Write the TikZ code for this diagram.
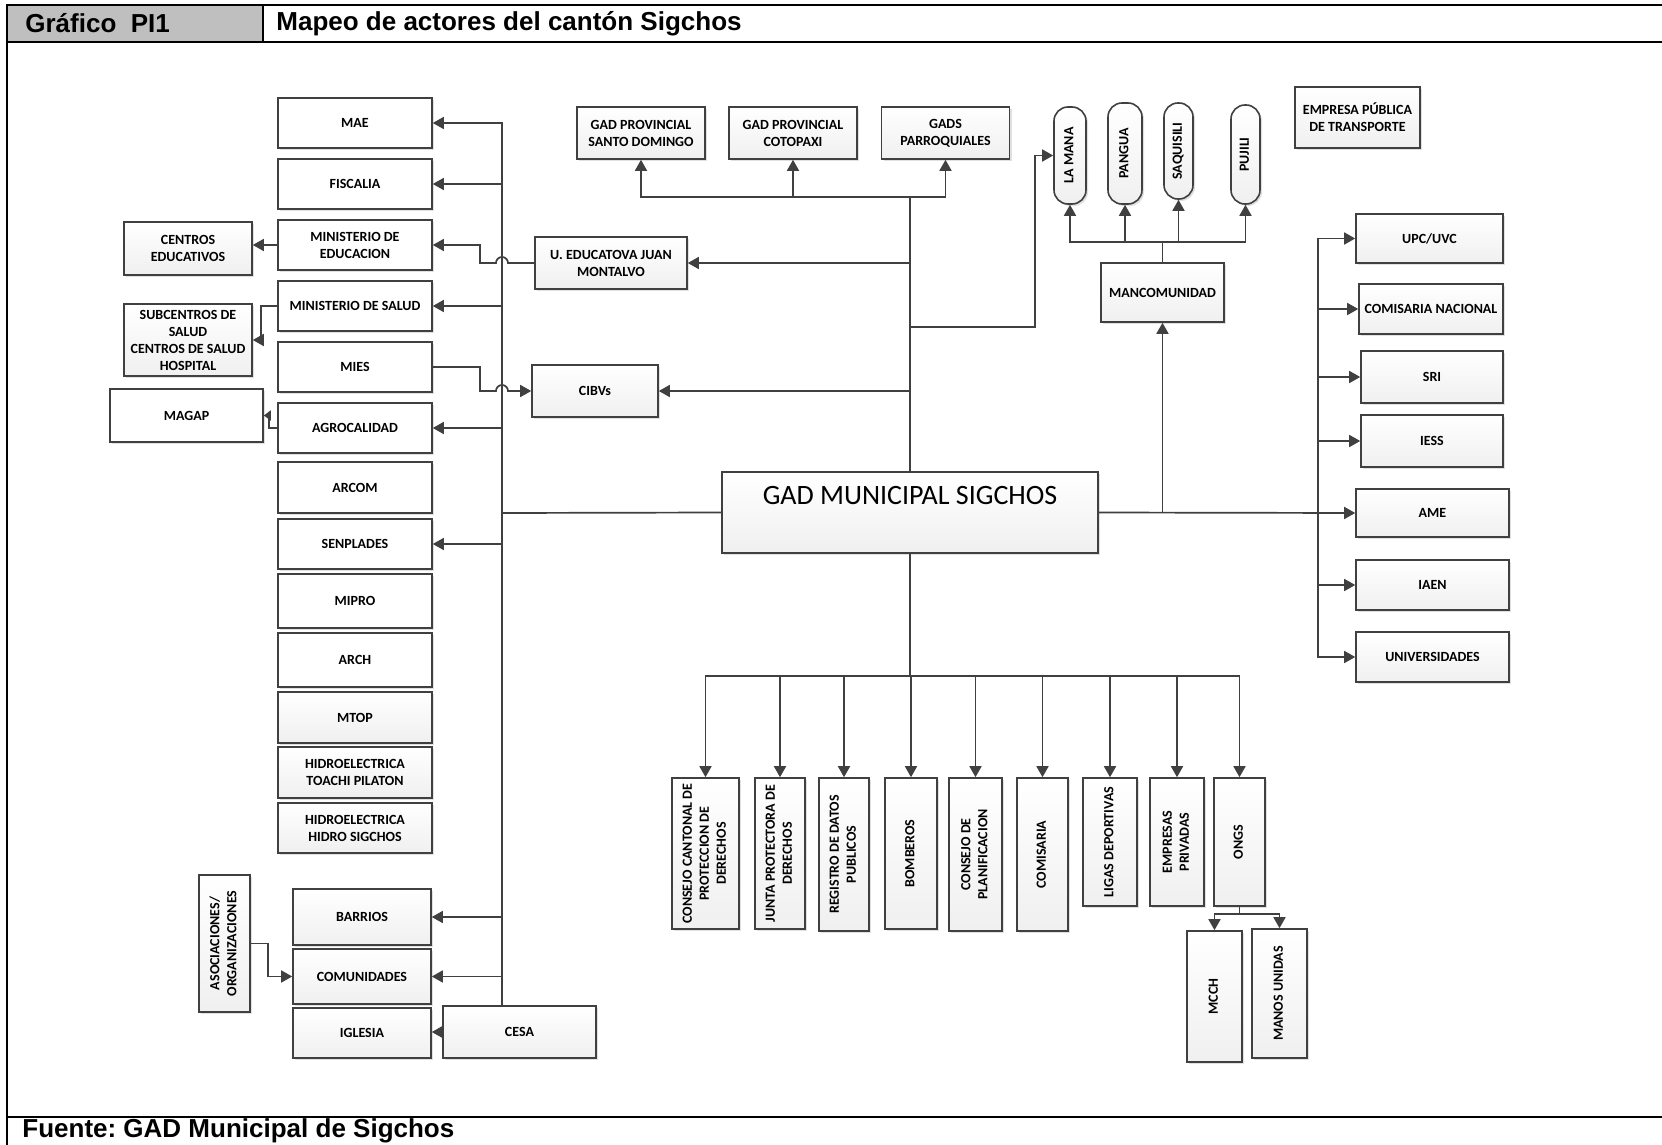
\documentclass[tikz,border=0pt]{standalone}
\usepackage{fontspec}
\usepackage{graphicx}
\setmainfont{Carlito}
\newfontfamily\hdrfont{Liberation Sans}
\usetikzlibrary{arrows.meta,shadows}
\definecolor{lnc}{HTML}{404040}
\definecolor{hdrgray}{HTML}{BFBFBF}
\newcommand{\vlabel}[1]{\rotatebox{90}{\begin{tabular}{@{}c@{}}#1\end{tabular}}}
\begin{document}
\begin{tikzpicture}[x=0.5pt,y=-0.5pt,every node/.style={font=\fontsize{7}{8.5}\selectfont\bfseries,align=center,inner sep=1pt},
  box/.style={draw=lnc,line width=0.8pt,top color=white,bottom color=gray!12,drop shadow={shadow xshift=1pt,shadow yshift=-1pt,opacity=.3,fill=black!40}},
  wbox/.style={box,top color=white,bottom color=white},
  lcol/.style={minimum width=77pt,minimum height=25pt},
  rcol/.style={minimum width=76.5pt,minimum height=25pt},
  vcol/.style={box,minimum height=75.5pt},
  town/.style={box,rounded corners=7pt},
  hdr/.style={font=\hdrfont\bfseries\fontsize{13}{15}\selectfont,anchor=west,inner sep=0pt},
  conn/.style={draw=lnc,line width=0.85pt},
  arr/.style={conn,-{Triangle[length=5.5pt,width=6pt]}}]
\useasboundingbox (0,0) rectangle (1662,1145);
% frame and headings
\fill[hdrgray] (7,5) rectangle (263,42);
\draw[line width=1.3pt] (7,1145) -- (7,5) -- (1662,5); \draw[line width=1.3pt] (7,42) -- (1662,42);
\draw[line width=1.3pt] (263,5) -- (263,42); \draw[line width=1.3pt] (7,1117) -- (1662,1117);
\node[hdr] (grafico) at (25,23.5) {Gráfico\ \ PI1}; \node[hdr] (titulo) at (276,23.5) {Mapeo de actores del cantón Sigchos};
\node[hdr] (fuente) at (22,1131) {Fuente:\ GAD Municipal de Sigchos};
% left column
\node[wbox,lcol] (mae) at (355,123) {MAE}; \node[wbox,lcol] (fisc) at (355,184) {FISCALIA};
\node[wbox,lcol] (minedu) at (355,245) {MINISTERIO DE\\EDUCACION}; \node[wbox,lcol] (minsal) at (355,306) {MINISTERIO DE SALUD};
\node[wbox,lcol] (mies) at (355,367) {MIES}; \node[wbox,lcol] (agro) at (355,428) {AGROCALIDAD};
\node[wbox,lcol,minimum height=25.5pt] (arcom) at (355,487.5) {ARCOM}; \node[wbox,lcol] (senpl) at (355,544) {SENPLADES};
\node[wbox,lcol,minimum height=27pt] (mipro) at (355,601) {MIPRO}; \node[wbox,lcol,minimum height=27pt] (arch) at (355,660) {ARCH};
\node[box,lcol,minimum height=25.5pt] (mtop) at (355,717.5) {MTOP};
\node[box,lcol,minimum height=25.5pt] (toachi) at (355,772.5) {HIDROELECTRICA\\TOACHI PILATON};
\node[box,lcol] (hsig) at (355,828) {HIDROELECTRICA\\HIDRO SIGCHOS};
\node[box,minimum width=64pt,minimum height=26.5pt] (centros) at (188,248.5) {CENTROS\\EDUCATIVOS};
\node[box,minimum width=64pt,minimum height=36pt] (subc) at (188,340) {SUBCENTROS DE\\SALUD\\CENTROS DE SALUD\\HOSPITAL};
\node[wbox,minimum width=76.5pt,minimum height=26.5pt] (magap) at (186.5,415.5) {MAGAP};
% bottom left
\node[box,minimum width=25.5pt,minimum height=68.5pt] (asoc) at (224.5,943.5) {\vlabel{ASOCIACIONES/\\ORGANIZACIONES}};
\node[box,minimum width=69pt,minimum height=28pt] (barrios) at (362,917) {BARRIOS};
\node[box,minimum width=69pt,minimum height=27.5pt] (comun) at (362,976.5) {COMUNIDADES};
\node[box,minimum width=69pt,minimum height=25pt] (igl) at (362,1033) {IGLESIA};
\node[box,minimum width=76.5pt,minimum height=26pt] (cesa) at (519.5,1032) {CESA};
% top and centre
\node[box,minimum width=64pt,minimum height=26pt] (santo) at (641,133) {GAD PROVINCIAL\\SANTO DOMINGO};
\node[box,minimum width=64pt,minimum height=26pt] (coto) at (793,133) {GAD PROVINCIAL\\COTOPAXI};
\node[box,minimum width=64pt,minimum height=26pt] (gadsp) at (945.5,133) {GADS\\PARROQUIALES};
\node[box,minimum width=76pt,minimum height=26pt] (ueduc) at (611,263) {U. EDUCATOVA JUAN\\MONTALVO};
\node[box,minimum width=63pt,minimum height=26pt] (cibv) at (595,391) {CIBVs};
\node[box,minimum width=188pt,minimum height=40.5pt,font=\fontsize{14}{16}\selectfont,text height=9.5pt,text depth=18pt] (gad) at (910,512.5) {GAD MUNICIPAL SIGCHOS};
\node[box,minimum width=62.5pt,minimum height=30.5pt] (empresa) at (1357.5,117.5) {EMPRESA PÚBLICA\\DE TRANSPORTE};
\node[town,minimum width=16pt,minimum height=48.5pt] (lamana) at (1070,155.5) {\vlabel{LA MANA}};
\node[town,minimum width=17pt,minimum height=50.5pt] (pangua) at (1125,153.5) {\vlabel{PANGUA}};
\node[town,minimum width=14.5pt,minimum height=48pt] (saq) at (1178.5,151) {\vlabel{SAQUISILI}};
\node[town,minimum width=14.5pt,minimum height=49.5pt] (pujili) at (1245.5,154.5) {\vlabel{PUJILI}};
\node[box,minimum width=61.5pt,minimum height=29.5pt] (mancom) at (1162.5,292.5) {MANCOMUNIDAD};
% right column
\node[box,minimum width=73.5pt,minimum height=24.5pt] (upc) at (1429.5,238.5) {UPC/UVC};
\node[box,minimum width=72pt,minimum height=25pt] (cnac) at (1431,309) {COMISARIA NACIONAL};
\node[box,minimum width=71pt,minimum height=26pt] (sri) at (1432,377) {SRI};
\node[box,minimum width=71pt,minimum height=26pt] (iess) at (1432,441) {IESS};
\node[box,rcol,minimum height=24pt] (ame) at (1432.5,513) {AME};
\node[box,rcol] (iaen) at (1432.5,585) {IAEN}; \node[box,rcol] (univ) at (1432.5,657) {UNIVERSIDADES};
% bottom row
\node[vcol,minimum width=33.5pt] (ccpd) at (705.5,853.5) {\vlabel{CONSEJO CANTONAL DE\\PROTECCION DE\\DERECHOS}};
\node[vcol,minimum width=25pt] (junta) at (780,853.5) {\vlabel{JUNTA PROTECTORA DE\\DERECHOS}};
\node[vcol,minimum width=25pt,minimum height=76.5pt] (regis) at (844,854.5) {\vlabel{REGISTRO DE DATOS\\PUBLICOS}};
\node[vcol,minimum width=26pt] (bomb) at (911,853.5) {\vlabel{BOMBEROS}};
\node[vcol,minimum width=26.5pt,minimum height=76.5pt] (cplan) at (975.5,854.5) {\vlabel{CONSEJO DE\\PLANIFICACION}};
\node[vcol,minimum width=25.5pt,minimum height=76.5pt] (comis) at (1042.5,854.5) {\vlabel{COMISARIA}};
\node[box,minimum width=27pt,minimum height=64pt] (ligas) at (1110,842) {\vlabel{LIGAS DEPORTIVAS}};
\node[box,minimum width=27pt,minimum height=64pt] (empr) at (1177,842) {\vlabel{EMPRESAS\\PRIVADAS}};
\node[box,minimum width=25.5pt,minimum height=64pt] (ongs) at (1239.5,842) {\vlabel{ONGS}};
\node[box,minimum width=27.5pt,minimum height=65.5pt] (mcch) at (1214.5,996.5) {\vlabel{MCCH}};
\node[box,minimum width=27.5pt,minimum height=64.5pt] (manos) at (1279.5,993.5) {\vlabel{MANOS UNIDAS}};
% junctions
\coordinate (tk) at (502,513); \coordinate (tp) at (910,197); \coordinate (lm) at (910,327); \coordinate (bt) at (910,676);
\coordinate (mc) at (1162.5,242); \coordinate (rb) at (1318,513); \coordinate (og) at (1239.5,914);
% left trunk
\draw[conn] (gad.west) -- (tk) -- (tk |- cesa.north);
\draw[arr] (tk) |- (mae.east);
\foreach \n in {fisc,minsal,agro,senpl,barrios,comun} \draw[arr] (tk |- \n.east) -- (\n.east);
\draw[arr] (ueduc.west) -- (508,263) arc[start angle=0,end angle=180,radius=3pt] -- (480,263) |- (minedu.east);
\draw[arr] (mies.east) -- (480,367) |- (496,391) arc[start angle=180,end angle=0,radius=3pt] -- (cibv.west);
\draw[arr] (minedu.west) -- (minedu.west -| centros.east);
\draw[arr] (minsal.west) -- ++(-16,0) |- (subc.east);
\draw[conn,-{Triangle[length=3.5pt,width=5pt]}] (agro.west) -- ++(-8,0) |- (magap.east);
\draw[arr] (asoc.east) -- ++(17,0) |- (comun.west);
\draw[arr] (cesa.west) -- (cesa.west -| igl.east);
% top
\draw[conn] (gad.north) -- (tp);
\foreach \n in {santo,coto,gadsp} \draw[arr] (tp) -| (\n.south);
\draw[arr] (ueduc.east -| tp) -- (ueduc.east); \draw[arr] (cibv.east -| tp) -- (cibv.east);
\draw[arr] (lm) -- (1035,327) |- (lamana.west);
% right
\draw[arr] (gad.east) -- (ame.west);
\draw[arr] (mancom.south |- gad.east) -- (mancom.south);
\draw[conn] (mancom.north) -- (mc);
\foreach \n in {lamana,pangua,saq,pujili} \draw[arr] (mc) -| (\n.south);
\draw[arr] (rb) |- (upc.west); \draw[arr] (rb) |- (univ.west);
\foreach \n in {cnac,sri,iess,iaen} \draw[arr] (rb |- \n.west) -- (\n.west);
% bottom
\draw[conn] (gad.south) -- (bt);
\foreach \n in {ccpd,junta,regis,bomb,cplan,comis,ligas,empr,ongs} \draw[arr] (bt) -| (\n.north);
\draw[conn] (ongs.south) -- (og);
\draw[arr] (og) -| (mcch.north); \draw[arr] (og) -| (manos.north);
\end{tikzpicture}
\end{document}
